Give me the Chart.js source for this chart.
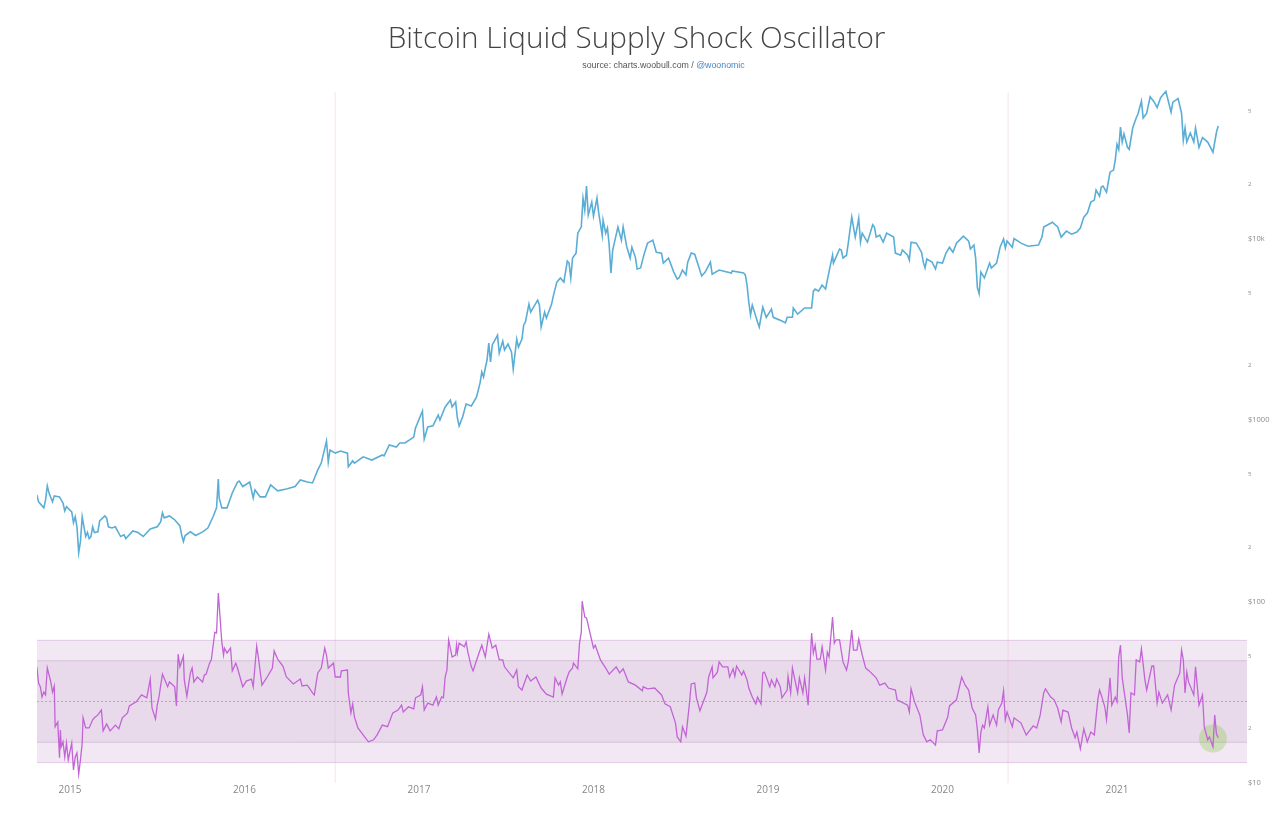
<!DOCTYPE html>
<html>
<head>
<meta charset="utf-8">
<title>Bitcoin Liquid Supply Shock Oscillator</title>
<script src="https://cdn.jsdelivr.net/npm/chart.js@4/dist/chart.umd.min.js"></script>
<style>
body { margin: 0; background: #fff; }
#wrap { position: relative; width: 1280px; height: 818px; overflow: hidden; }
#title { position: absolute; left: 0; width: 1273px; top: 16px; text-align: center; font: 300 29.7px "Open Sans", sans-serif; color: #444; }
#source { position: absolute; left: 0; width: 1327px; top: 60px; text-align: center; font: 8.8px "Liberation Sans", sans-serif; color: #555; }
#source a { color: #4a86c5; text-decoration: none; }
</style>
</head>
<body>
<div id="wrap">
    <div id="title">Bitcoin Liquid Supply Shock Oscillator</div>
    <div id="source">source: charts.woobull.com / <a>@woonomic</a></div>
    <canvas id="myChart" width="1280" height="818"></canvas>
</div>
<script>
// price, decimal years and USD
var priceYears = [2014.81,2014.82,2014.85,2014.86,2014.87,2014.88,2014.90,2014.91,2014.94,2014.96,2014.97,2014.98,2015.01,2015.02,2015.03,2015.04,2015.05,2015.06,2015.07,2015.09,2015.10,2015.11,2015.12,2015.13,2015.14,2015.16,2015.17,2015.20,2015.21,2015.22,2015.24,2015.26,2015.29,2015.31,2015.32,2015.36,2015.39,2015.42,2015.46,2015.50,2015.52,2015.53,2015.54,2015.57,2015.60,2015.63,2015.64,2015.65,2015.66,2015.69,2015.72,2015.76,2015.79,2015.82,2015.84,2015.85,2015.855,2015.87,2015.90,2015.92,2015.93,2015.96,2015.97,2015.99,
    2016.03,2016.05,2016.06,2016.09,2016.12,2016.15,2016.17,2016.19,2016.24,2016.29,2016.32,2016.36,2016.39,2016.42,2016.44,2016.47,2016.48,2016.49,2016.52,2016.55,2016.59,2016.595,2016.62,2016.63,2016.68,2016.73,2016.79,2016.80,2016.83,2016.87,2016.89,2016.92,2016.97,2016.98,
    2017.02,2017.025,2017.03,2017.05,2017.08,2017.11,2017.12,2017.15,2017.18,2017.19,2017.21,2017.22,2017.23,2017.25,2017.27,2017.30,2017.33,2017.35,2017.36,2017.37,2017.38,2017.39,2017.40,2017.41,2017.42,2017.45,2017.46,2017.48,2017.49,2017.51,2017.53,2017.54,2017.56,2017.57,2017.59,2017.60,2017.61,2017.63,2017.64,2017.68,2017.69,2017.70,2017.72,2017.73,2017.76,2017.77,2017.79,2017.81,2017.83,2017.85,2017.86,2017.87,2017.88,2017.90,2017.91,2017.93,2017.94,2017.95,2017.96,2017.97,2017.99,
    2018.00,2018.02,2018.03,2018.05,2018.055,2018.07,2018.08,2018.09,2018.10,2018.11,2018.14,2018.16,2018.17,2018.19,2018.21,2018.22,2018.24,2018.25,2018.27,2018.29,2018.31,2018.34,2018.36,2018.39,2018.40,2018.43,2018.46,2018.48,2018.49,2018.51,2018.53,2018.54,2018.56,2018.58,2018.60,2018.62,2018.64,2018.67,2018.68,2018.72,2018.79,2018.795,2018.86,2018.87,2018.88,2018.89,2018.90,2018.91,2018.94,2018.95,2018.97,2018.99,
    2019.02,2019.03,2019.08,2019.10,2019.11,2019.14,2019.145,2019.17,2019.21,2019.25,2019.26,2019.27,2019.29,2019.31,2019.33,2019.34,2019.36,2019.37,2019.375,2019.39,2019.41,2019.42,2019.43,2019.45,2019.46,2019.48,2019.50,2019.51,2019.52,2019.53,2019.54,2019.57,2019.60,2019.61,2019.62,2019.64,2019.66,2019.68,2019.72,2019.73,2019.76,2019.77,2019.80,2019.81,2019.82,2019.85,2019.88,2019.89,2019.90,2019.91,2019.94,2019.96,2019.97,
    2020.00,2020.02,2020.04,2020.06,2020.08,2020.12,2020.15,2020.16,2020.18,2020.19,2020.20,2020.21,2020.22,2020.24,2020.27,2020.28,2020.31,2020.33,2020.35,2020.36,2020.37,2020.40,2020.41,2020.45,2020.49,2020.55,2020.57,2020.58,2020.63,2020.66,2020.68,2020.71,2020.74,2020.77,2020.79,2020.81,2020.83,2020.85,2020.87,2020.88,2020.90,2020.91,2020.92,2020.94,2020.96,2020.98,2020.99,
    2021.00,2021.01,2021.02,2021.03,2021.04,2021.06,2021.07,2021.09,2021.11,2021.12,2021.14,2021.15,2021.17,2021.19,2021.21,2021.23,2021.25,2021.28,2021.31,2021.32,2021.35,2021.37,2021.38,2021.39,2021.40,2021.42,2021.44,2021.45,2021.47,2021.49,2021.52,2021.55,2021.57,2021.58];
var priceValues = [387,354,328,363,433,396,354,382,377,349,316,333,312,272,293,258,186,214,293,228,240,222,228,258,240,242,278,296,289,258,254,258,228,233,222,245,240,228,251,258,275,308,289,296,282,261,233,214,231,242,231,242,254,293,328,473,372,328,328,372,396,455,461,430,
    455,372,412,377,377,439,423,407,417,430,467,455,450,531,579,766,587,684,657,675,657,552,595,579,627,602,642,634,729,710,747,747,805,904,
    1121,916,786,916,928,1065,1000,1180,1289,1180,1256,1026,928,1039,1225,1195,1340,1600,1837,1726,1934,2140,2650,2087,2590,2930,2340,2720,2430,2620,2370,1909,2793,2520,2793,3340,3470,4350,3930,4581,4300,3255,3930,3650,4350,4830,5750,6060,5750,7510,7320,6060,7800,8310,10700,11600,16700,14340,19450,13460,15860,
    13290,16700,13800,10430,12630,10700,11420,9200,6450,8640,11570,9800,11570,9070,7800,8950,7900,6790,6880,8200,9430,9800,8400,8310,7320,7800,6530,5980,6060,6700,6300,7410,8310,8200,7140,6220,6530,7410,6360,6700,6450,6620,6450,6300,5540,4460,3790,4300,3470,3255,4180,3680,
    4090,3680,3510,3430,3680,3680,4140,3830,4140,4140,5130,5270,5130,5540,5270,5900,7320,8090,7320,7900,8750,8640,7800,8090,9430,13120,10180,11420,12950,9550,10700,9550,11900,11570,10180,10430,9550,10700,10180,8310,8090,8640,8090,7610,9550,9430,8400,7410,6880,7700,7410,6790,7410,
    7320,8310,8950,8400,9430,10300,9680,8750,9200,7800,5340,4960,6530,6060,7320,6880,7320,8950,9930,8860,9680,8950,10000,9430,9070,9200,10180,11570,12300,11570,10180,10980,10560,10850,11420,13120,13800,15860,16280,18480,17100,19200,19450,18000,23200,23820,27040,
    33000,31000,41100,34000,37700,31800,31000,40600,46100,48500,57100,46100,49000,60400,57100,52700,59700,64700,49700,56400,59000,49000,34800,40600,34000,38100,34000,40600,31800,36000,34000,29900,38500,41700];

// oscillator, in standard deviations
var oscYears = [2014.81,2014.82,2014.83,2014.84,2014.85,2014.86,2014.87,2014.89,2014.90,2014.91,2014.915,2014.93,2014.94,2014.945,2014.95,2014.96,2014.97,2014.98,2014.99,2015.01,2015.02,2015.03,2015.04,2015.05,2015.06,2015.07,2015.075,2015.09,2015.11,2015.13,2015.14,2015.16,2015.18,2015.19,2015.21,2015.23,2015.26,2015.28,2015.30,2015.33,2015.34,2015.38,2015.41,2015.44,2015.46,2015.47,2015.49,2015.50,2015.51,2015.52,2015.53,2015.56,2015.57,2015.60,2015.61,2015.62,2015.63,2015.65,2015.655,2015.67,2015.69,2015.70,2015.71,2015.73,2015.76,2015.77,2015.78,2015.80,2015.81,2015.83,2015.84,2015.85,2015.86,2015.87,2015.88,2015.885,2015.90,2015.92,2015.93,2015.95,2015.96,2015.99,
    2016.01,2016.04,2016.05,2016.07,2016.08,2016.10,2016.13,2016.16,2016.17,2016.19,2016.22,2016.24,2016.28,2016.32,2016.33,2016.36,2016.39,2016.40,2016.42,2016.44,2016.46,2016.47,2016.48,2016.51,2016.52,2016.55,2016.555,2016.59,2016.595,2016.61,2016.62,2016.63,2016.65,2016.68,2016.71,2016.74,2016.76,2016.79,2016.82,2016.85,2016.88,2016.90,2016.91,2016.94,2016.97,2016.98,
    2017.01,2017.02,2017.03,2017.05,2017.08,2017.10,2017.11,2017.13,2017.14,2017.15,2017.16,2017.17,2017.19,2017.21,2017.215,2017.22,2017.23,2017.26,2017.27,2017.28,2017.30,2017.31,2017.34,2017.36,2017.38,2017.40,2017.42,2017.44,2017.46,2017.48,2017.49,2017.54,2017.56,2017.57,2017.59,2017.62,2017.64,2017.67,2017.70,2017.73,2017.77,2017.78,2017.80,2017.81,2017.82,2017.85,2017.86,2017.88,2017.885,2017.91,2017.92,2017.93,2017.935,2017.95,2017.96,2017.98,
    2018.00,2018.01,2018.04,2018.07,2018.09,2018.13,2018.15,2018.17,2018.20,2018.24,2018.28,2018.285,2018.31,2018.35,2018.39,2018.41,2018.44,2018.47,2018.48,2018.50,2018.51,2018.53,2018.55,2018.56,2018.58,2018.59,2018.61,2018.65,2018.66,2018.68,2018.685,2018.71,2018.72,2018.74,2018.77,2018.78,2018.80,2018.81,2018.82,2018.85,2018.86,2018.88,2018.89,2018.91,2018.93,2018.94,2018.96,2018.97,2018.98,
    2019.01,2019.02,2019.04,2019.05,2019.07,2019.08,2019.11,2019.115,2019.13,2019.14,2019.17,2019.18,2019.20,2019.21,2019.23,2019.25,2019.26,2019.27,2019.28,2019.30,2019.31,2019.33,2019.34,2019.35,2019.37,2019.38,2019.39,2019.41,2019.43,2019.45,2019.46,2019.48,2019.49,2019.51,2019.52,2019.54,2019.56,2019.58,2019.62,2019.64,2019.67,2019.69,2019.73,2019.74,2019.80,2019.81,2019.82,2019.84,2019.87,2019.89,2019.91,2019.93,2019.96,2019.97,
    2020.00,2020.03,2020.04,2020.08,2020.11,2020.13,2020.15,2020.17,2020.19,2020.20,2020.21,2020.22,2020.23,2020.24,2020.26,2020.27,2020.29,2020.31,2020.32,2020.34,2020.35,2020.36,2020.37,2020.40,2020.41,2020.45,2020.48,2020.52,2020.54,2020.56,2020.58,2020.59,2020.62,2020.64,2020.66,2020.68,2020.69,2020.72,2020.74,2020.76,2020.77,2020.79,2020.81,2020.83,2020.85,2020.87,2020.89,2020.90,2020.91,2020.93,2020.94,2020.96,2020.97,2020.99,
    2021.00,2021.01,2021.02,2021.03,2021.06,2021.07,2021.08,2021.10,2021.11,2021.13,2021.14,2021.16,2021.17,2021.20,2021.21,2021.23,2021.24,2021.26,2021.29,2021.31,2021.33,2021.36,2021.37,2021.38,2021.39,2021.40,2021.41,2021.44,2021.45,2021.47,2021.49,2021.50,2021.52,2021.53,2021.55,2021.56,2021.57,2021.58];
var oscValues = [.85,.45,.36,.11,.23,.16,.82,.48,.23,.38,-.62,-.50,-1.38,-.70,-1.11,-.99,-1.36,-1.02,-1.43,-1.02,-1.68,-1.36,-1.26,-1.78,-1.43,-1.02,-.40,-.65,-.65,-.45,-.40,-.33,-.21,-.72,-.55,-.72,-.58,-.67,-.40,-.28,-.11,-.01,.16,.09,.55,-.16,-.43,-.09,.11,.40,.67,.36,.48,.36,-.11,1.16,.85,1.11,.53,.13,.70,.82,.48,.60,.48,.65,.67,.94,1.02,1.70,1.68,2.66,2.07,1.46,1.14,1.31,1.19,1.31,.75,.94,.82,.36,
    .50,.55,.36,1.36,1.07,.40,.60,.82,1.24,1.04,.87,.60,.43,.55,.38,.40,.21,.16,.70,.82,1.31,1.14,.82,.94,.60,.60,.75,.77,.21,-.28,-.06,-.38,-.65,-.82,-.99,-.94,-.82,-.58,-.62,-.28,-.21,-.09,-.26,-.13,-.18,.09,
    .16,.36,-.21,-.04,-.09,.11,-.09,.11,.09,.60,.77,1.51,1.09,1.14,1.38,1.19,1.43,1.34,1.46,1.21,.85,.75,1.14,1.38,1.09,1.65,1.31,1.38,1.02,1.02,.85,.58,.77,.36,.28,.65,.50,.60,.33,.18,.11,.58,.40,.48,.18,.60,.72,.82,.94,.80,1.43,1.70,2.46,2.07,2.05,1.68,
    1.31,1.38,1.02,.82,.67,.85,.70,.80,.48,.40,.26,.36,.31,.33,.16,-.06,-.13,-.53,-.87,-.99,-.62,-.85,-.04,.43,.45,.09,-.23,.23,.60,.85,.58,.72,.97,.85,.85,.60,.80,.62,.87,.65,.75,.53,.33,.11,-.06,.11,-.06,.70,.72,
    .36,.53,.36,.55,.36,.09,.28,.62,.21,.82,.21,.58,.21,.58,-.09,1.68,1.19,1.38,1.04,1.04,1.34,.77,1.21,1.09,2.07,1.43,1.51,1.51,.97,.77,.97,1.75,1.26,1.26,1.53,1.14,.82,.75,.58,.40,.45,.33,.28,.04,-.09,-.26,.31,-.01,-.33,-.82,-.99,-.94,-1.07,-.72,
    -.70,-.38,-.11,.04,.60,.40,.28,-.16,-.33,-.70,-1.26,-.75,-.58,-.65,-.13,-.58,-.33,-.58,-.21,-.04,.26,-.45,-.26,-.62,-.40,-.53,-.82,-.60,-.65,-.33,.21,.31,.11,.04,-.16,-.50,-.21,-.26,-.65,-.89,-.75,-1.16,-.67,-.99,-.75,-.82,.04,.28,.16,-.13,-.45,.58,-.09,.11,
    -.01,1.09,1.38,.58,-.33,-.77,.21,.16,1.02,.97,1.29,.53,.28,.87,.87,-.04,.23,-.04,.16,-.21,.40,.70,1.26,1.02,.21,.72,.48,.16,.85,-.09,.16,-.62,-.94,-.87,-1.11,-.33,-.80,-.89];

// band levels on the oscillator axis
var outerBand = [1.5, -1.5];
var innerBand = [1, -1];
var midLine = 0;

// halvings and the current reading
var halvingYears = [2016.52, 2020.376];
var currentYear = [2021.55];
var currentOsc = [-.91];

// axes
var xRange = [2014.811, 2021.745];
var yearTicks = [2015, 2016, 2017, 2018, 2019, 2020, 2021];
var priceRange = [10, 65800];
var oscRange = [-2, 15];
var priceTicks = [10, 20, 50, 100, 200, 500, 1000, 2000, 5000, 10000, 20000, 50000];
var priceTickLabels = ['$10', '2', '5', '$100', '2', '5', '$1000', '2', '5', '$10k', '2', '5'];

var zip = function(xs, ys) {
    return xs.map(function(x, i) { return { x: x, y: ys[i] }; });
};

// flat level across the whole width
var level = function(v) {
    return [{ x: xRange[0], y: v }, { x: xRange[1], y: v }];
};

var bandDataset = function(v, color, fillColor, order) {
    return {
        data: level(v),
        yAxisID: 'osc',
        borderColor: color,
        borderWidth: 1,
        pointRadius: 0,
        fill: fillColor ? { target: '+1' } : false,
        backgroundColor: fillColor,
        order: order
    };
};

var halvingDataset = function(year) {
    return {
        data: [{ x: year, y: 10 }, { x: year, y: 64000 }],
        yAxisID: 'price',
        borderColor: 'rgba(240,170,205,0.35)',
        borderWidth: 1,
        pointRadius: 0,
        order: 6
    };
};

var ctx = document.getElementById('myChart').getContext('2d');
window.myChart = new Chart(ctx, {
    type: 'line',
    data: {
        datasets: [
            bandDataset(outerBand[0], 'rgba(190,125,200,0.35)', 'rgba(128,50,150,0.11)', 10),
            bandDataset(outerBand[1], 'rgba(190,125,200,0.35)', null, 10),
            bandDataset(innerBand[0], 'rgba(150,95,160,0.25)', 'rgba(128,50,130,0.08)', 9),
            bandDataset(innerBand[1], 'rgba(150,95,160,0.25)', null, 9),
            {
                data: level(midLine),
                yAxisID: 'osc',
                borderColor: 'rgba(140,90,140,0.55)',
                borderWidth: 0.8,
                borderDash: [2, 2],
                pointRadius: 0,
                order: 8
            },
            halvingDataset(halvingYears[0]),
            halvingDataset(halvingYears[1]),
            {
                data: zip(priceYears, priceValues),
                yAxisID: 'price',
                borderColor: '#5aaed6',
                borderWidth: 1.6,
                pointRadius: 0,
                order: 2
            },
            {
                data: zip(oscYears, oscValues),
                yAxisID: 'osc',
                borderColor: '#c264d6',
                borderWidth: 1.3,
                pointRadius: 0,
                order: 3
            },
            {
                data: zip(currentYear, currentOsc),
                yAxisID: 'osc',
                showLine: false,
                pointRadius: 14,
                pointBorderWidth: 0,
                pointBackgroundColor: 'rgba(130,200,60,0.3)',
                order: 4
            }
        ]
    },
    options: {
        responsive: false,
        animation: false,
        layout: { padding: { left: 37, top: 90, right: 0, bottom: 0 } },
        plugins: { legend: { display: false }, tooltip: { enabled: false } },
        scales: {
            x: {
                type: 'linear',
                min: xRange[0],
                max: xRange[1],
                grid: { display: false, drawTicks: false },
                border: { display: false },
                afterBuildTicks: function(scale) {
                    scale.ticks = yearTicks.map(function(y) { return { value: y }; });
                },
                afterFit: function(scale) { scale.height = 35; },
                ticks: {
                    color: '#888',
                    font: { family: '"Open Sans", sans-serif', size: 10 },
                    padding: 1,
                    maxRotation: 0,
                    autoSkip: false,
                    callback: function(v) { return String(v); }
                }
            },
            price: {
                type: 'logarithmic',
                position: 'right',
                min: priceRange[0],
                max: priceRange[1],
                grid: { display: false, drawTicks: false },
                border: { display: false },
                afterBuildTicks: function(scale) {
                    scale.ticks = priceTicks.map(function(v) { return { value: v }; });
                },
                afterFit: function(scale) { scale.width = 33; },
                ticks: {
                    color: '#8c8c8c',
                    padding: 1,
                    autoSkip: false,
                    font: function(c) {
                        var big = c.index % 3 === 0;
                        return { family: '"Open Sans", sans-serif', size: big ? 7.5 : 6 };
                    },
                    callback: function(v, i) { return priceTickLabels[i]; }
                }
            },
            osc: {
                type: 'linear',
                display: false,
                min: oscRange[0],
                max: oscRange[1]
            }
        }
    }
});
</script>
</body>
</html>
